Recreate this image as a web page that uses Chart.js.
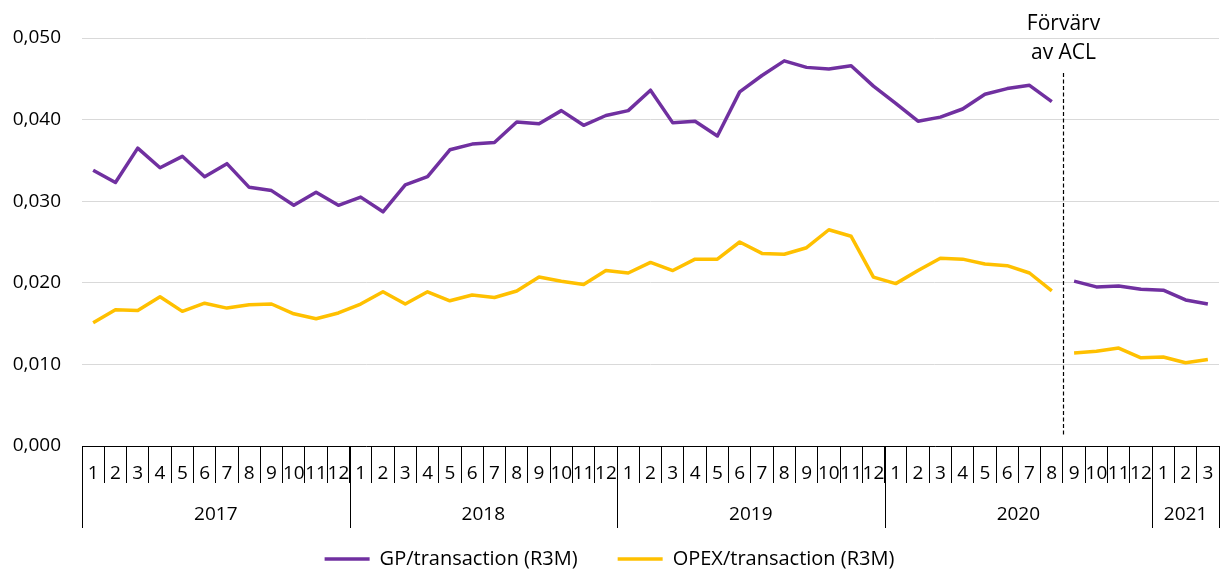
<!DOCTYPE html>
<html>
<head>
<meta charset="utf-8">
<script src="https://cdn.jsdelivr.net/npm/chart.js@4"></script>
<style>
  html, body { margin: 0; padding: 0; background: #fff; }
  #wrap { width: 1220px; height: 570px; }
</style>
</head>
<body>
<div id="wrap"><canvas id="chart" width="1220" height="570"></canvas></div>
<script>
// months Jan 2017 .. Mar 2021
const years = ['2017', '2018', '2019', '2020', '2021'];
const monthsPerYear = [12, 12, 12, 12, 3];
const monthLabels = [];
monthsPerYear.forEach(n => { for (let m = 1; m <= n; m++) monthLabels.push(String(m)); });

const gpValues = [
  0.0338, 0.0323, 0.0365, 0.0341, 0.0355, 0.0330, 0.0346, 0.0317, 0.0313, 0.0295, 0.0311, 0.0295,
  0.0305, 0.0287, 0.0320, 0.0330, 0.0363, 0.0370, 0.0372, 0.0397, 0.0395, 0.0411, 0.0393, 0.0405,
  0.0411, 0.0436, 0.0396, 0.0398, 0.0380, 0.0434, 0.0454, 0.0472, 0.0464, 0.0462, 0.0466, 0.0441,
  0.0420, 0.0398, 0.0403, 0.0413, 0.0431, 0.0438, 0.0442, 0.0422, 0.0202, 0.0195, 0.0196, 0.0192,
  0.0191, 0.0179, 0.0174
];
const opexValues = [
  0.0151, 0.0167, 0.0166, 0.0183, 0.0165, 0.0175, 0.0169, 0.0173, 0.0174, 0.0162, 0.0156, 0.0163,
  0.0174, 0.0189, 0.0174, 0.0189, 0.0178, 0.0185, 0.0182, 0.0190, 0.0207, 0.0202, 0.0198, 0.0215,
  0.0212, 0.0225, 0.0215, 0.0229, 0.0229, 0.0250, 0.0236, 0.0235, 0.0243, 0.0265, 0.0257, 0.0207,
  0.0199, 0.0215, 0.0230, 0.0229, 0.0223, 0.0221, 0.0212, 0.0190, 0.0114, 0.0116, 0.0120, 0.0108,
  0.0109, 0.0102, 0.0106
];
const acquisitionIndex = 43; // last month before "Förvärv av ACL" (aug 2020)
const annotationLines = ['Förvärv', 'av ACL'];

const FONT = "'Open Sans', sans-serif";
const TEXT = '#000';

// gap in the lines at the acquisition
const gapSegment = {
  borderColor: ctx => ctx.p0DataIndex === acquisitionIndex ? 'rgba(0,0,0,0)' : undefined
};

// year row under the months + dashed acquisition marker
const extrasPlugin = {
  id: 'extras',
  afterDraw(chart) {
    const ctx = chart.ctx;
    const xs = chart.scales.x;
    const area = chart.chartArea;
    const half = (xs.getPixelForValue(1) - xs.getPixelForValue(0)) / 2;

    ctx.save();
    ctx.strokeStyle = '#000';
    ctx.lineWidth = 1;
    ctx.fillStyle = TEXT;
    ctx.font = '19px ' + FONT;
    ctx.textAlign = 'center';
    ctx.textBaseline = 'middle';
    let start = 0;
    years.forEach((y, i) => {
      const end = start + monthsPerYear[i];
      const x0 = xs.getPixelForValue(start) - half;
      const x1 = xs.getPixelForValue(end - 1) + half;
      [x0, x1].forEach(x => {
        const px = Math.round(x) + 0.5;
        ctx.beginPath();
        ctx.moveTo(px, area.bottom);
        ctx.lineTo(px, area.bottom + 82);
        ctx.stroke();
      });
      ctx.fillText(y, (x0 + x1) / 2, area.bottom + 69);
      start = end;
    });

    // acquisition marker
    const xm = Math.round((xs.getPixelForValue(acquisitionIndex) + xs.getPixelForValue(acquisitionIndex + 1)) / 2) + 0.5;
    ctx.setLineDash([4, 2.5]);
    ctx.lineWidth = 1.2;
    ctx.beginPath();
    ctx.moveTo(xm, 73);
    ctx.lineTo(xm, area.bottom - 10);
    ctx.stroke();
    ctx.setLineDash([]);
    ctx.font = '21px ' + FONT;
    ctx.fillText(annotationLines[0], xm, 24);
    ctx.fillText(annotationLines[1], xm, 53);
    ctx.restore();
  }
};

new Chart(document.getElementById('chart').getContext('2d'), {
  type: 'line',
  data: {
    labels: monthLabels,
    datasets: [
      {
        label: 'GP/transaction (R3M)',
        data: gpValues,
        borderColor: '#7030A0',
        backgroundColor: '#7030A0',
        borderWidth: 3.5,
        pointRadius: 0,
        tension: 0,
        borderJoinStyle: 'round',
        segment: gapSegment
      },
      {
        label: 'OPEX/transaction (R3M)',
        data: opexValues,
        borderColor: '#FFC000',
        backgroundColor: '#FFC000',
        borderWidth: 3.5,
        pointRadius: 0,
        tension: 0,
        borderJoinStyle: 'round',
        segment: gapSegment
      }
    ]
  },
  options: {
    responsive: false,
    animation: false,
    layout: { padding: { left: 0, right: 1, top: 38, bottom: -9 } },
    plugins: {
      tooltip: { enabled: false },
      legend: {
        position: 'bottom',
        labels: {
          usePointStyle: true,
          pointStyle: 'line',
          pointStyleWidth: 45,
          padding: 40,
          color: TEXT,
          font: { family: FONT, size: 20 }
        }
      }
    },
    scales: {
      x: {
        type: 'category',
        offset: true,
        grid: {
          offset: true,
          drawOnChartArea: false,
          drawTicks: true,
          tickLength: 37,
          color: '#000',
          lineWidth: 1
        },
        border: { display: true, color: '#000', width: 1 },
        ticks: {
          autoSkip: false,
          maxRotation: 0,
          padding: -21,
          color: TEXT,
          font: { family: FONT, size: 19 }
        },
        afterFit: s => { s.height = 63; }
      },
      y: {
        min: 0,
        max: 0.05,
        grid: { color: '#D9D9D9', lineWidth: 1, drawTicks: false },
        border: { display: false },
        ticks: {
          stepSize: 0.01,
          padding: 21,
          color: TEXT,
          font: { family: FONT, size: 19 },
          callback: v => v.toFixed(3).replace('.', ',')
        },
        afterFit: s => { s.width = 82; }
      }
    }
  },
  plugins: [extrasPlugin]
});
</script>
</body>
</html>
